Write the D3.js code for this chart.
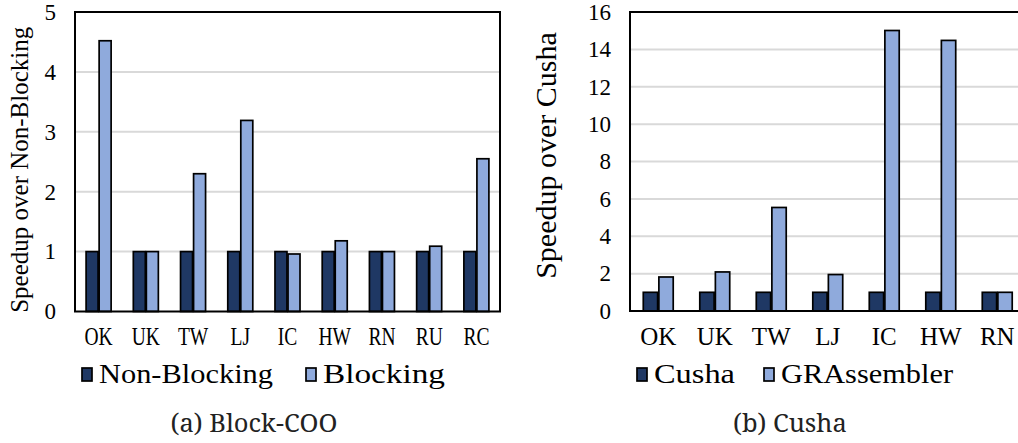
<!DOCTYPE html>
<html>
<head>
<meta charset="utf-8">
<script src="https://cdn.jsdelivr.net/npm/d3@7"></script>
<style>
  body { margin: 0; background: #fff; }
  svg { display: block; }
</style>
</head>
<body>
<svg id="chart" width="1018" height="443"></svg>
<script>
// Panel (a): Block-COO
const blockCats = ["OK", "UK", "TW", "LJ", "IC", "HW", "RN", "RU", "RC"];
const nonBlocking = [1, 1, 1, 1, 1, 1, 1, 1, 1];
const blocking = [4.52, 1, 2.3, 3.19, 0.96, 1.18, 1, 1.09, 2.55];
const blockTicks = [0, 1, 2, 3, 4, 5];

// Panel (b): Cusha
const cushaCats = ["OK", "UK", "TW", "LJ", "IC", "HW", "RN"];
const cusha = [1, 1, 1, 1, 1, 1, 1];
const grassembler = [1.82, 2.09, 5.54, 1.95, 15.01, 14.48, 1];
const cushaTicks = [0, 2, 4, 6, 8, 10, 12, 14, 16];

const darkBlue = "#1f3864";
const lightBlue = "#8faadc";
const serif = "Liberation Serif";

const svg = d3.select("#chart");

function drawPanel(opts) {
    const g = svg.append("g");
    const x = d3.scaleBand().domain(opts.cats).range([opts.left, opts.right]).paddingInner(0.47).paddingOuter(0.235);
    const y = d3.scaleLinear().domain([0, opts.max]).range([opts.bottom, opts.top]);
    const inner = d3.scaleBand().domain([0, 1]).range([0, x.bandwidth()]).paddingInner(0.08);

    // gridlines
    g.append("g")
        .selectAll("line")
        .data(opts.ticks.filter(t => t > 0 && t < opts.max))
        .enter()
        .append("line")
        .attr("x1", opts.left)
        .attr("x2", opts.right)
        .attr("y1", d => y(d))
        .attr("y2", d => y(d))
        .attr("stroke", "#d9d9d9")
        .attr("stroke-width", 2);

    // tick labels
    g.append("g")
        .selectAll("text")
        .data(opts.ticks)
        .enter()
        .append("text")
        .attr("x", opts.tickX)
        .attr("y", d => y(d))
        .attr("dy", "0.34em")
        .attr("text-anchor", "end")
        .attr("font-family", serif)
        .attr("font-size", 23)
        .text(d => d);

    // bars
    const series = [opts.a, opts.b];
    const colors = [darkBlue, lightBlue];
    series.forEach((vals, si) => {
        g.append("g")
            .selectAll("rect")
            .data(vals)
            .enter()
            .append("rect")
            .attr("x", (d, i) => x(opts.cats[i]) + inner(si))
            .attr("y", d => y(d))
            .attr("width", inner.bandwidth())
            .attr("height", d => y(0) - y(d))
            .attr("fill", colors[si])
            .attr("stroke", "#000")
            .attr("stroke-width", 1.7);
    });

    // plot frame
    g.append("rect")
        .attr("x", opts.left)
        .attr("y", opts.top)
        .attr("width", opts.right - opts.left)
        .attr("height", opts.bottom - opts.top)
        .attr("fill", "none")
        .attr("stroke", "#000")
        .attr("stroke-width", 2);

    // category labels
    g.append("g")
        .selectAll("text")
        .data(opts.cats)
        .enter()
        .append("text")
        .attr("transform", d => `translate(${x(d) + x.bandwidth() / 2},345) scale(${opts.labelScale},1)`)
        .attr("text-anchor", "middle")
        .attr("font-family", serif)
        .attr("font-size", 25)
        .text(d => d);

    // y axis title
    g.append("text")
        .attr("transform", `translate(${opts.titleX},${(opts.top + opts.bottom) / 2 + opts.titleShift}) rotate(-90)`)
        .attr("text-anchor", "middle")
        .attr("font-family", serif)
        .attr("font-size", opts.titleSize)
        .text(opts.title);

    // legend
    opts.legend.forEach((item, i) => {
        g.append("rect")
            .attr("x", item.x)
            .attr("y", 368)
            .attr("width", 10)
            .attr("height", 13)
            .attr("fill", colors[i])
            .attr("stroke", "#000")
            .attr("stroke-width", 1.7);
        g.append("text")
            .attr("x", item.x + 17)
            .attr("y", 383)
            .attr("font-family", serif)
            .attr("font-size", 27)
            .attr("textLength", item.w)
            .attr("lengthAdjust", "spacingAndGlyphs")
            .text(item.label);
    });

    // caption
    g.append("text")
        .attr("x", opts.captionX)
        .attr("y", 432)
        .attr("text-anchor", "middle")
        .attr("font-family", "Noto Serif")
        .attr("font-size", 25.5)
        .attr("fill", "#222")
        .text(opts.caption);
}

drawPanel({
    cats: blockCats, a: nonBlocking, b: blocking, ticks: blockTicks, max: 5,
    left: 75, right: 500, top: 12, bottom: 311.5,
    tickX: 56, labelScale: 0.78,
    title: "Speedup over Non-Blocking", titleX: 28, titleShift: 8, titleSize: 25,
    legend: [{ x: 82, label: "Non-Blocking", w: 174 }, { x: 306, label: "Blocking", w: 122 }],
    caption: "(a) Block-COO", captionX: 254
});

drawPanel({
    cats: cushaCats, a: cusha, b: grassembler, ticks: cushaTicks, max: 16,
    left: 630, right: 1025.5, top: 12, bottom: 311,
    tickX: 611, labelScale: 1,
    title: "Speedup over Cusha", titleX: 556, titleShift: -6, titleSize: 30,
    legend: [{ x: 637, label: "Cusha", w: 81 }, { x: 764, label: "GRAssembler", w: 172 }],
    caption: "(b) Cusha", captionX: 790
});
</script>
</body>
</html>
